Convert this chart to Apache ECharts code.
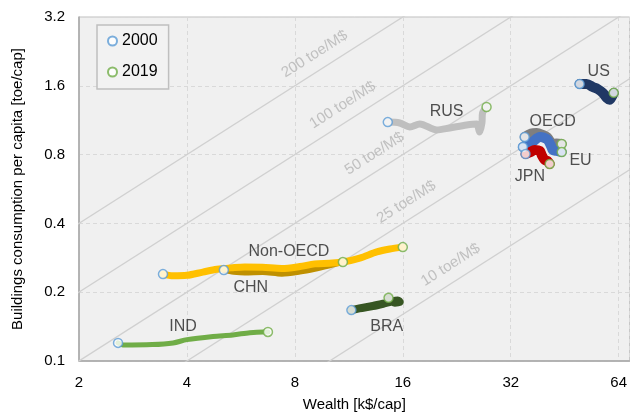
<!DOCTYPE html>
<html>
<head>
<meta charset="utf-8">
<style>
  html, body { margin: 0; padding: 0; background: #fff; }
  #chart { width: 630px; height: 418px; }
</style>
<script src="https://cdn.jsdelivr.net/npm/echarts@6/dist/echarts.min.js"></script>
</head>
<body>
<div id="chart"></div>
<script>
// Wealth [k$/cap] vs buildings consumption [toe/cap], 2000 -> 2019 trajectories
const xTicks = [2, 4, 8, 16, 32, 64];
const yTicks = [0.1, 0.2, 0.4, 0.8, 1.6, 3.2];

const IND = [[2.57,0.120],[2.65,0.1175],[3.2,0.118],[3.66,0.120],[4.0,0.124],[4.73,0.128],[5.37,0.130],[5.99,0.133],[6.52,0.134],[6.73,0.134]];
const CHN = [[5.07,0.250],[5.4,0.246],[5.8,0.244],[6.5,0.245],[7.36,0.241],[8.26,0.246],[9.09,0.253],[10.0,0.262],[10.89,0.271]];
const NON_OECD = [[3.43,0.240],[3.66,0.236],[4.0,0.237],[4.43,0.245],[4.85,0.252],[5.37,0.256],[5.8,0.258],[6.5,0.257],[7.36,0.254],[8.26,0.259],[9.09,0.266],[10.0,0.268],[10.89,0.271],[12.14,0.282],[13.54,0.300],[14.72,0.309],[16.0,0.315]];
const BRA = [[11.5,0.167],[12.1,0.170],[13.2,0.174],[14.1,0.178],[14.7,0.181],[15.5,0.184],[15.7,0.181],[15.2,0.180],[14.6,0.189]];
const RUS = [[14.53,1.11],[15.69,1.10],[16.74,1.057],[17.84,1.09],[19.9,1.025],[21.6,1.046],[24.1,1.078],[25.7,1.089],[26.2,1.004],[26.6,1.10],[26.7,1.217],[27.4,1.292]];
const US = [[49.8,1.63],[52.1,1.63],[54.2,1.58],[55.9,1.55],[57.8,1.49],[59.3,1.415],[60.4,1.39],[61.2,1.43],[62.0,1.49]];
const OECD = [[35.0,0.955],[36.5,0.99],[37.8,0.995],[39.3,0.975],[40.5,0.95],[41.9,0.89],[43.0,0.895],[44.4,0.89]];
const EU = [[34.6,0.864],[36.5,0.90],[38.6,0.955],[39.5,0.95],[40.6,0.927],[41.5,0.87],[41.9,0.838],[43.0,0.83],[44.4,0.821]];
const JPN = [[35.2,0.805],[36.3,0.82],[37.3,0.838],[38.6,0.83],[39.0,0.80],[39.8,0.758],[40.5,0.75],[41.1,0.728]];

// Iso-intensity lines [toe/M$] and the wealth at which each caption sits
const intensities = [10, 25, 50, 100, 200];
const intensityLabelWealth = [23.0, 17.3, 14.1, 11.5, 9.6];

// Region captions: [name, wealth, consumption]
const regionLabels = [
  ['US', 56.3, 1.84], ['RUS', 21.2, 1.24], ['OECD', 41.9, 1.12], ['EU', 50.1, 0.75],
  ['JPN', 36.2, 0.638], ['Non-OECD', 7.7, 0.300], ['CHN', 6.03, 0.209],
  ['IND', 3.9, 0.142], ['BRA', 14.44, 0.142]
];

const FONT = '"Liberation Sans", Arial, sans-serif';
const BLUE = '#5b9bd5', GREEN = '#70ad47';

// Log-2 projection of both axes
const lx = w => Math.log2(w);
const ly = c => Math.log2(c / 0.1);
const proj = pts => pts.map(p => [lx(p[0]), ly(p[1])]);

const trajectories = [
  { name: 'IND', data: IND, color: '#70ad47', width: 5 },
  { name: 'CHN', data: CHN, color: '#bf9000', width: 6 },
  { name: 'Non-OECD', data: NON_OECD, color: '#ffc000', width: 7 },
  { name: 'BRA', data: BRA, color: '#375623', width: 8 },
  { name: 'RUS', data: RUS, color: '#bfbfbf', width: 7 },
  { name: 'US', data: US, color: '#203864', width: 10 },
  { name: 'OECD', data: OECD, color: '#7f7f7f', width: 10 },
  { name: 'EU', data: EU, color: '#4472c4', width: 10 },
  { name: 'JPN', data: JPN, color: '#c00000', width: 10 }
];

const series = [];

intensities.forEach((k, i) => {
  const off = Math.log2(k / 100);
  series.push({
    type: 'line', silent: true, symbol: 'none', z: 1, clip: true,
    lineStyle: { color: '#d0d0d0', width: 1.3 },
    data: [[0, off], [8, 8 + off]]
  });
  const w = intensityLabelWealth[i];
  series.push({
    type: 'scatter', silent: true, symbolSize: 0, z: 2,
    data: [[lx(w), ly(k * w / 1000)]],
    label: {
      show: true, position: 'inside', formatter: k + ' toe/M$',
      rotate: 32.5, offset: [0, -16], color: '#b4b4b4',
      fontSize: 15, fontFamily: FONT
    }
  });
});

trajectories.forEach(t => {
  series.push({
    type: 'line', name: t.name, silent: true, symbol: 'none', z: 3,
    smooth: 0.3,
    lineStyle: { color: t.color, width: t.width, cap: 'round', join: 'round' },
    data: proj(t.data)
  });
});

series.push({
  type: 'scatter', name: '2000', symbol: 'circle', symbolSize: 9, z: 5,
  itemStyle: { color: '#fff', borderColor: BLUE, borderWidth: 1.5 },
  data: trajectories.map(t => [lx(t.data[0][0]), ly(t.data[0][1])])
});
series.push({
  type: 'scatter', name: '2019', symbol: 'circle', symbolSize: 9, z: 5,
  itemStyle: { color: '#fff', borderColor: GREEN, borderWidth: 1.5 },
  data: trajectories.map(t => {
    const p = t.data[t.data.length - 1];
    return [lx(p[0]), ly(p[1])];
  })
});

series.push({
  type: 'scatter', silent: true, symbolSize: 0, z: 6,
  data: regionLabels.map(r => ({ value: [lx(r[1]), ly(r[2])], name: r[0] })),
  label: {
    show: true, position: 'inside', formatter: p => p.name,
    color: '#262626', fontSize: 16, fontFamily: FONT
  }
});

const chart = echarts.init(document.getElementById('chart'), null, { renderer: 'canvas' });
chart.setOption({
  animation: false,
  backgroundColor: '#fff',
  textStyle: { fontFamily: FONT },
  grid: {
    left: 79, right: 0, top: 17, bottom: 57,
    show: true, backgroundColor: '#f0f0f0', borderColor: '#bfbfbf', borderWidth: 1
  },
  legend: {
    data: ['2000', '2019'], orient: 'vertical', left: 97, top: 25,
    itemWidth: 9, itemHeight: 9, itemGap: 15,
    padding: [8, 11, 9, 10],
    borderColor: '#bfbfbf', borderWidth: 1.5, backgroundColor: '#f2f2f2',
    textStyle: { fontSize: 16, color: '#000', fontFamily: FONT }
  },
  xAxis: {
    type: 'value', min: 1, max: 1 + 551 / 108, interval: 1,
    name: 'Wealth [k$/cap]', nameLocation: 'middle', nameGap: 36,
    nameTextStyle: { fontSize: 15, color: '#000', fontFamily: FONT },
    axisLine: { show: true, lineStyle: { color: '#a6a6a6', width: 1.5 } },
    axisTick: { show: false },
    axisLabel: {
      fontSize: 15, color: '#000', margin: 14, showMaxLabel: false,
      formatter: v => { const i = Math.round(v) - 1; return Math.abs(v - Math.round(v)) < 1e-6 && xTicks[i] !== undefined ? String(xTicks[i]) : ''; }
    },
    splitLine: { show: true, lineStyle: { color: '#d9d9d9', type: [4, 3], width: 1 } }
  },
  yAxis: {
    type: 'value', min: 0, max: 5, interval: 1,
    name: 'Buildings consumption per capita [toe/cap]', nameLocation: 'middle', nameGap: 54,
    nameTextStyle: { fontSize: 15, color: '#000', fontFamily: FONT },
    axisLine: { show: true, lineStyle: { color: '#a6a6a6', width: 1.5 } },
    axisTick: { show: false },
    axisLabel: {
      fontSize: 15, color: '#000', margin: 14,
      formatter: v => { const i = Math.round(v); return yTicks[i] !== undefined ? String(yTicks[i]) : ''; }
    },
    splitLine: { show: true, lineStyle: { color: '#d9d9d9', type: [4, 3], width: 1 } }
  },
  series: series
});
</script>
</body>
</html>
